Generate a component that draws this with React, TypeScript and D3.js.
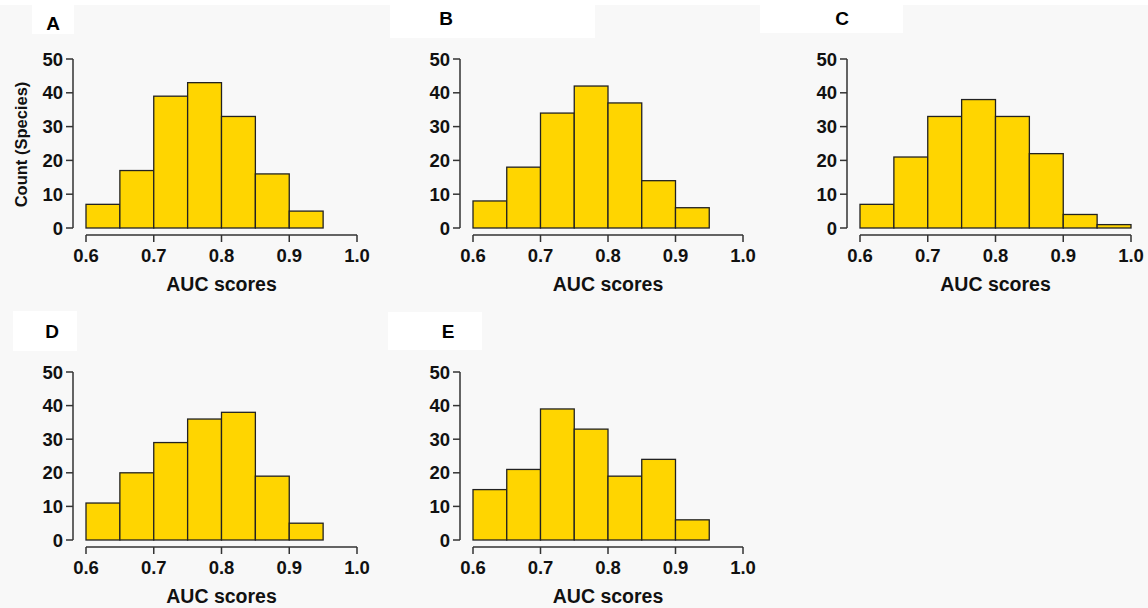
import * as React from 'react'
import * as d3 from 'd3'

// bin edges shared by all panels (AUC score histogram, width 0.05)
const binEdges = [0.6, 0.65, 0.7, 0.75, 0.8, 0.85, 0.9, 0.95, 1.0]
const xTicks = [0.6, 0.7, 0.8, 0.9, 1.0]
const yTicks = [0, 10, 20, 30, 40, 50]

const countsA = [7, 17, 39, 43, 33, 16, 5]
const countsB = [8, 18, 34, 42, 37, 14, 6]
const countsC = [7, 21, 33, 38, 33, 22, 4, 1]
const countsD = [11, 20, 29, 36, 38, 19, 5]
const countsE = [15, 21, 39, 33, 19, 24, 6]

const panelLabels = ['A', 'B', 'C', 'D', 'E']
const panelCounts = [countsA, countsB, countsC, countsD, countsE]

// layout: pixel range of x domain [0.6, 1.0] and y domain [0, 50]
const layout = [
  { x0: 86, x1: 357, yb: 228, yt: 59, lx: 53, ly: 23, patch: [32, 0, 42, 34] },
  { x0: 473, x1: 743, yb: 228, yt: 59, lx: 446, ly: 18, patch: [390, 0, 205, 38] },
  { x0: 860, x1: 1131, yb: 228, yt: 59, lx: 842, ly: 18, patch: [760, 0, 143, 33] },
  { x0: 86, x1: 357, yb: 540, yt: 372, lx: 52, ly: 331, patch: [13, 311, 64, 40] },
  { x0: 473, x1: 743, yb: 540, yt: 372, lx: 448, ly: 331, patch: [388, 312, 94, 38] },
]

const FONT = 'Liberation Sans, Arial, sans-serif'
const FILL = '#FFD500'
const INK = '#222'

function Panel({ idx }: { idx: number }) {
  const L = layout[idx]
  const counts = panelCounts[idx]
  const x = d3.scaleLinear().domain([0.6, 1.0]).range([L.x0, L.x1])
  const y = d3.scaleLinear().domain([0, 50]).range([L.yb, L.yt])
  const axisX = L.x0 - 13
  const axisY = L.yb + 7

  return (
    <g>
      <rect x={L.patch[0]} y={L.patch[1]} width={L.patch[2]} height={L.patch[3]} fill="#fff" />
      <text x={L.lx} y={L.ly} dy="0.36em" textAnchor="middle" fontFamily={FONT} fontWeight="bold" fontSize={19} fill="#000">
        {panelLabels[idx]}
      </text>

      {/* bars */}
      {counts.map((c, i) => (
        <rect
          key={i}
          x={x(binEdges[i])}
          y={y(c)}
          width={x(binEdges[i + 1]) - x(binEdges[i])}
          height={y(0) - y(c)}
          fill={FILL}
          stroke={INK}
          strokeWidth={1.3}
        />
      ))}

      {/* y axis */}
      <line x1={axisX} x2={axisX} y1={y(0)} y2={y(50)} stroke="#333" strokeWidth={1.5} />
      {yTicks.map(t => (
        <g key={t}>
          <line x1={axisX - 7} x2={axisX} y1={y(t)} y2={y(t)} stroke="#333" strokeWidth={1.5} />
          <text x={axisX - 10} y={y(t)} dy="0.36em" textAnchor="end" fontFamily={FONT} fontWeight="bold" fontSize={18.5} fill="#111">
            {t}
          </text>
        </g>
      ))}

      {/* x axis */}
      <line x1={x(0.6)} x2={x(1.0)} y1={axisY} y2={axisY} stroke="#333" strokeWidth={1.5} />
      {xTicks.map(t => (
        <g key={t}>
          <line x1={x(t)} x2={x(t)} y1={axisY} y2={axisY + 7} stroke="#333" strokeWidth={1.5} />
          <text x={x(t)} y={L.yb + 27} dy="0.36em" textAnchor="middle" fontFamily={FONT} fontWeight="bold" fontSize={18.5} fill="#111">
            {d3.format('.1f')(t)}
          </text>
        </g>
      ))}
      <text x={(L.x0 + L.x1) / 2} y={L.yb + 56} dy="0.36em" textAnchor="middle" fontFamily={FONT} fontWeight="bold" fontSize={19.5} fill="#111">
        AUC scores
      </text>

      {idx === 0 && (
        <text
          transform={`translate(21, ${(L.yb + L.yt) / 2 + 1}) rotate(-90)`}
          dy="0.36em"
          textAnchor="middle"
          fontFamily={FONT}
          fontWeight="bold"
          fontSize={16.5}
          fill="#111"
        >
          Count (Species)
        </text>
      )}
    </g>
  )
}

export default function App() {
  return (
    <svg width={1148} height={608} style={{ position: 'absolute', left: 0, top: 0, display: 'block' }}>
      <rect x={0} y={0} width={1148} height={608} fill="#f8f8f8" />
      <rect x={0} y={0} width={1148} height={5} fill="#fff" />
      {panelLabels.map((_, i) => (
        <Panel key={i} idx={i} />
      ))}
    </svg>
  )
}
